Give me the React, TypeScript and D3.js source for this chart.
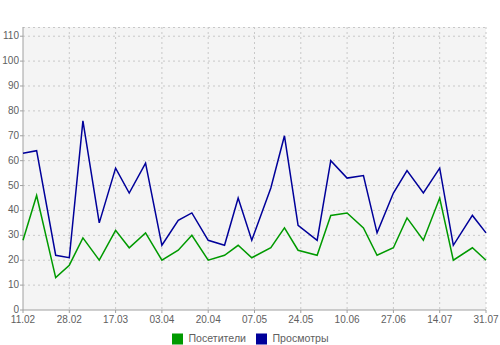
import React from "react";
import * as d3 from "d3";

const dates = [
  "2009-02-11", "2009-02-16", "2009-02-23", "2009-02-28", "2009-03-05", "2009-03-11",
  "2009-03-17", "2009-03-22", "2009-03-28", "2009-04-03", "2009-04-09", "2009-04-14",
  "2009-04-20", "2009-04-26", "2009-05-01", "2009-05-06", "2009-05-13", "2009-05-18",
  "2009-05-23", "2009-05-30", "2009-06-04", "2009-06-10", "2009-06-16", "2009-06-21",
  "2009-06-27", "2009-07-02", "2009-07-08", "2009-07-14", "2009-07-19", "2009-07-26",
  "2009-07-31",
];
const visitors = [28, 46, 13, 18, 29, 20, 32, 25, 31, 20, 24, 30, 20, 22, 26, 21, 25, 33, 24, 22, 38, 39, 33, 22, 25, 37, 28, 45, 20, 25, 20];
const views = [63, 64, 22, 21, 76, 35, 57, 47, 59, 26, 36, 39, 28, 26, 45, 28, 49, 70, 34, 28, 60, 53, 54, 31, 47, 56, 47, 57, 26, 38, 31];
const xTickDates = ["2009-02-11", "2009-02-28", "2009-03-17", "2009-04-03", "2009-04-20", "2009-05-07", "2009-05-24", "2009-06-10", "2009-06-27", "2009-07-14", "2009-07-31"];
const xTickLabels = ["11.02", "28.02", "17.03", "03.04", "20.04", "07.05", "24.05", "10.06", "27.06", "14.07", "31.07"];
const yTicks = [0, 10, 20, 30, 40, 50, 60, 70, 80, 90, 100, 110];
const seriesNames = ["Посетители", "Просмотры"];
const seriesColors = ["#009a00", "#00009a"];

const W = 500, H = 345;
const L = 23, R = 486, T = 27, B = 310;
const FONT = "'Liberation Sans', Arial, sans-serif";

export default function App() {
  const parse = (s: string) => new Date(s + "T00:00:00Z");
  const x = d3.scaleUtc().domain([parse(dates[0]), parse(dates[dates.length - 1])]).range([L, R]);
  const y = d3.scaleLinear().domain([0, 113.7]).range([B, T]);
  const series = [visitors, views];
  const line = d3.line<number>().x((_, i) => x(parse(dates[i]))).y((v) => y(v));

  return (
    <svg width={W} height={H} style={{ position: "absolute", left: 0, top: 0 }} fontFamily={FONT}>
      <rect x={0} y={0} width={W} height={H} fill="#fff" />
      <rect x={L} y={T} width={R - L} height={B - T} fill="#f4f4f4" />
      {yTicks.slice(1).map((t) => (
        <line key={"gy" + t} x1={L} x2={R} y1={y(t)} y2={y(t)} stroke="#c8c8c8" strokeDasharray="2,3" />
      ))}
      <line x1={L} x2={R} y1={T + 0.5} y2={T + 0.5} stroke="#c8c8c8" strokeDasharray="2,3" />
      {xTickDates.slice(1).map((d) => (
        <line key={"gx" + d} x1={x(parse(d))} x2={x(parse(d))} y1={T} y2={B} stroke="#c8c8c8" strokeDasharray="2,3" />
      ))}
      <line x1={L} x2={L} y1={T} y2={B} stroke="#a0a0a0" />
      <line x1={L} x2={R} y1={B} y2={B} stroke="#a0a0a0" />
      {yTicks.map((t) => (
        <g key={"yt" + t}>
          <line x1={L - 3} x2={L} y1={y(t)} y2={y(t)} stroke="#a0a0a0" />
          <text x={L - 4} y={y(t) - 0.5} dy="0.35em" textAnchor="end" fontSize={10} fill="#606060">{t}</text>
        </g>
      ))}
      {xTickDates.map((d, i) => (
        <g key={"xt" + d}>
          <line x1={x(parse(d))} x2={x(parse(d))} y1={B} y2={B + 3} stroke="#a0a0a0" />
          <text x={x(parse(d))} y={B + 9} dy="0.35em" textAnchor="middle" fontSize={10} fill="#606060">{xTickLabels[i]}</text>
        </g>
      ))}
      {series.map((s, i) => (
        <path key={"s" + i} d={line(s) || ""} fill="none" stroke={seriesColors[i]} strokeWidth={1.5} strokeLinejoin="miter" />
      ))}
      {seriesNames.map((n, i) => {
        const lx = i === 0 ? 172 : 256;
        return (
          <g key={"lg" + i}>
            <rect x={lx} y={333.5} width={11} height={11} fill={seriesColors[i]} />
            <text x={lx + 16.5} y={338.5} dy="0.35em" fontSize={10.6} fill="#606060">{n}</text>
          </g>
        );
      })}
    </svg>
  );
}
